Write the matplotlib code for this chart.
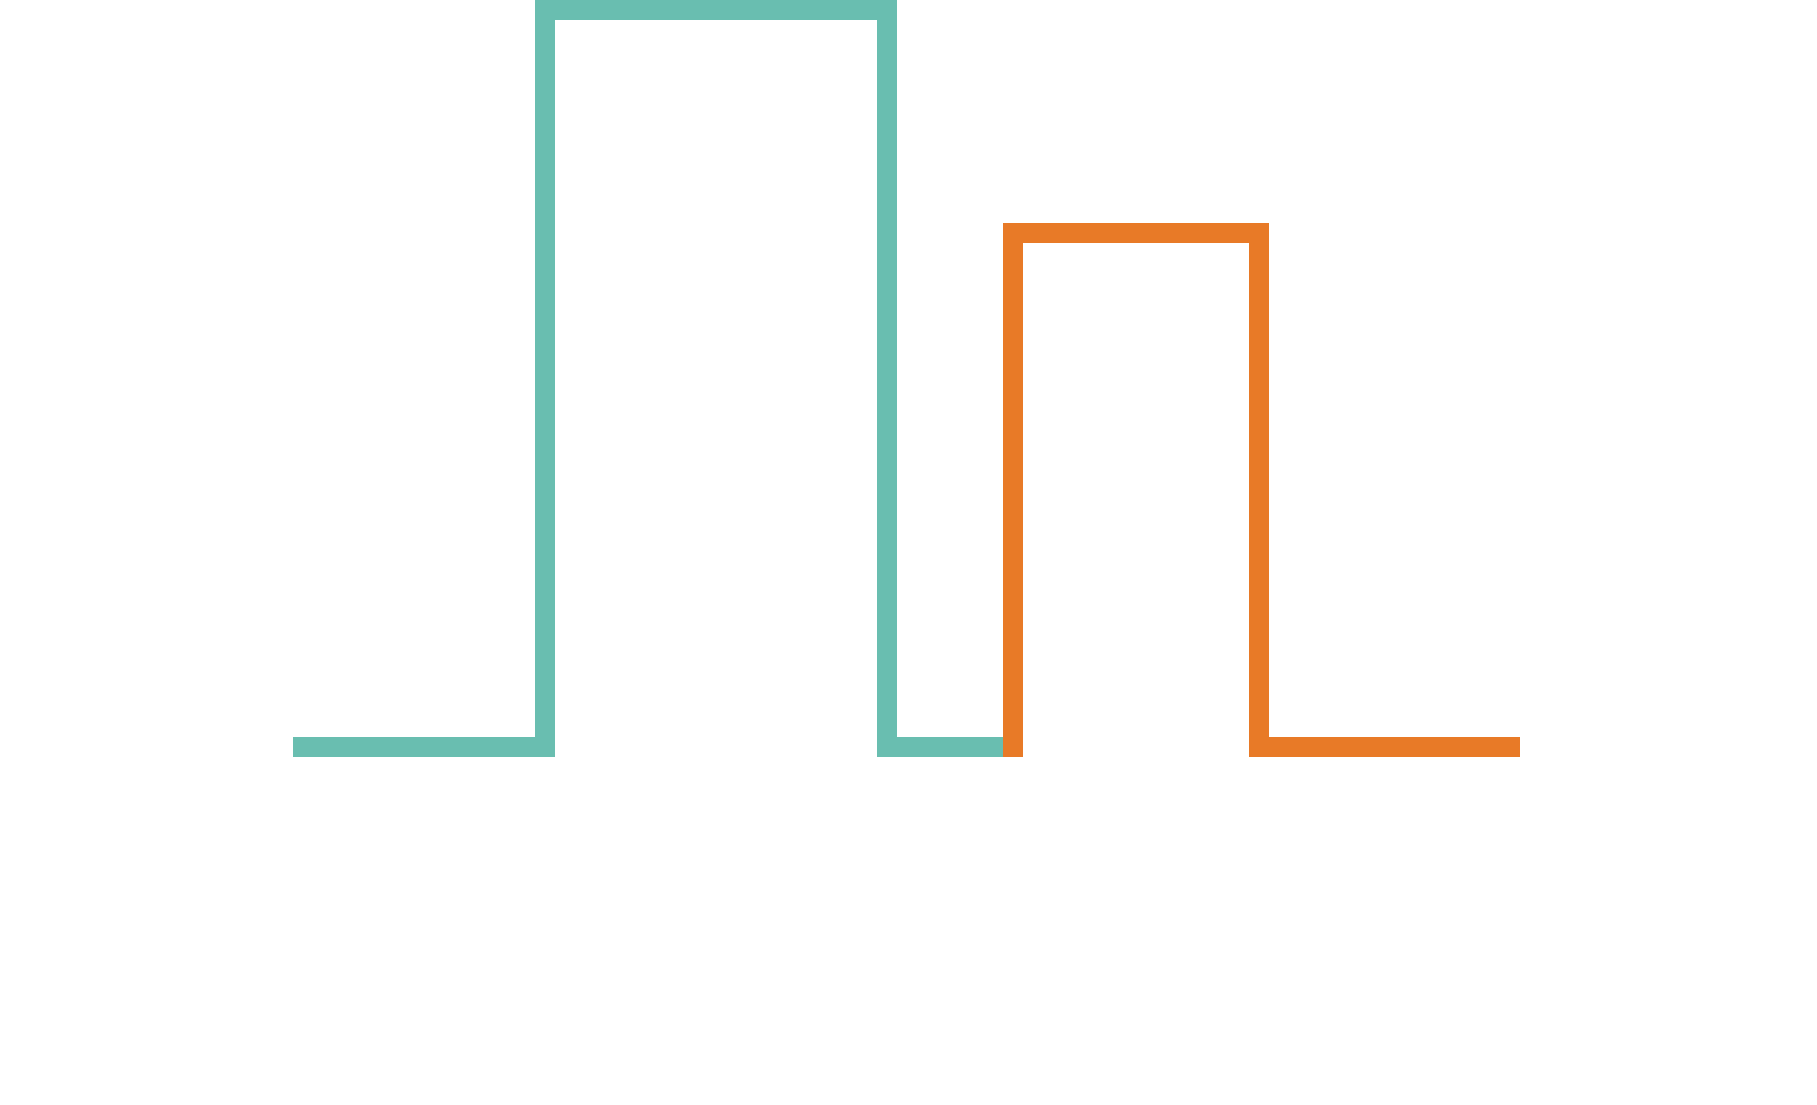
import matplotlib
matplotlib.use("Agg")
import matplotlib.pyplot as plt

# Step series (edge positions and levels)
teal_x = [0.0, 2.0, 2.0, 4.835, 4.835, 5.884]
teal_y = [0, 0, 100, 100, 0, 0]
orange_x = [5.884, 5.884, 7.92, 7.92, 10.0]
orange_y = [0, 69.7, 69.7, 0, 0]

teal_color = "#69beb0"
orange_color = "#e87a27"

fig = plt.figure(figsize=(18.17, 11.05), dpi=100)
ax = fig.add_axes([0, 0, 1, 1])
lw = 14.4
ax.plot(teal_x, teal_y, color=teal_color, lw=lw,
        solid_capstyle="projecting", solid_joinstyle="miter", clip_on=False)
ax.plot(orange_x, orange_y, color=orange_color, lw=lw,
        solid_capstyle="projecting", solid_joinstyle="miter", clip_on=False)
ax.set_xlim(-2.5135, 12.544)
ax.set_ylim(-48.51, 101.36)
ax.axis("off")
fig.savefig("out.png", dpi=100, facecolor="white")
